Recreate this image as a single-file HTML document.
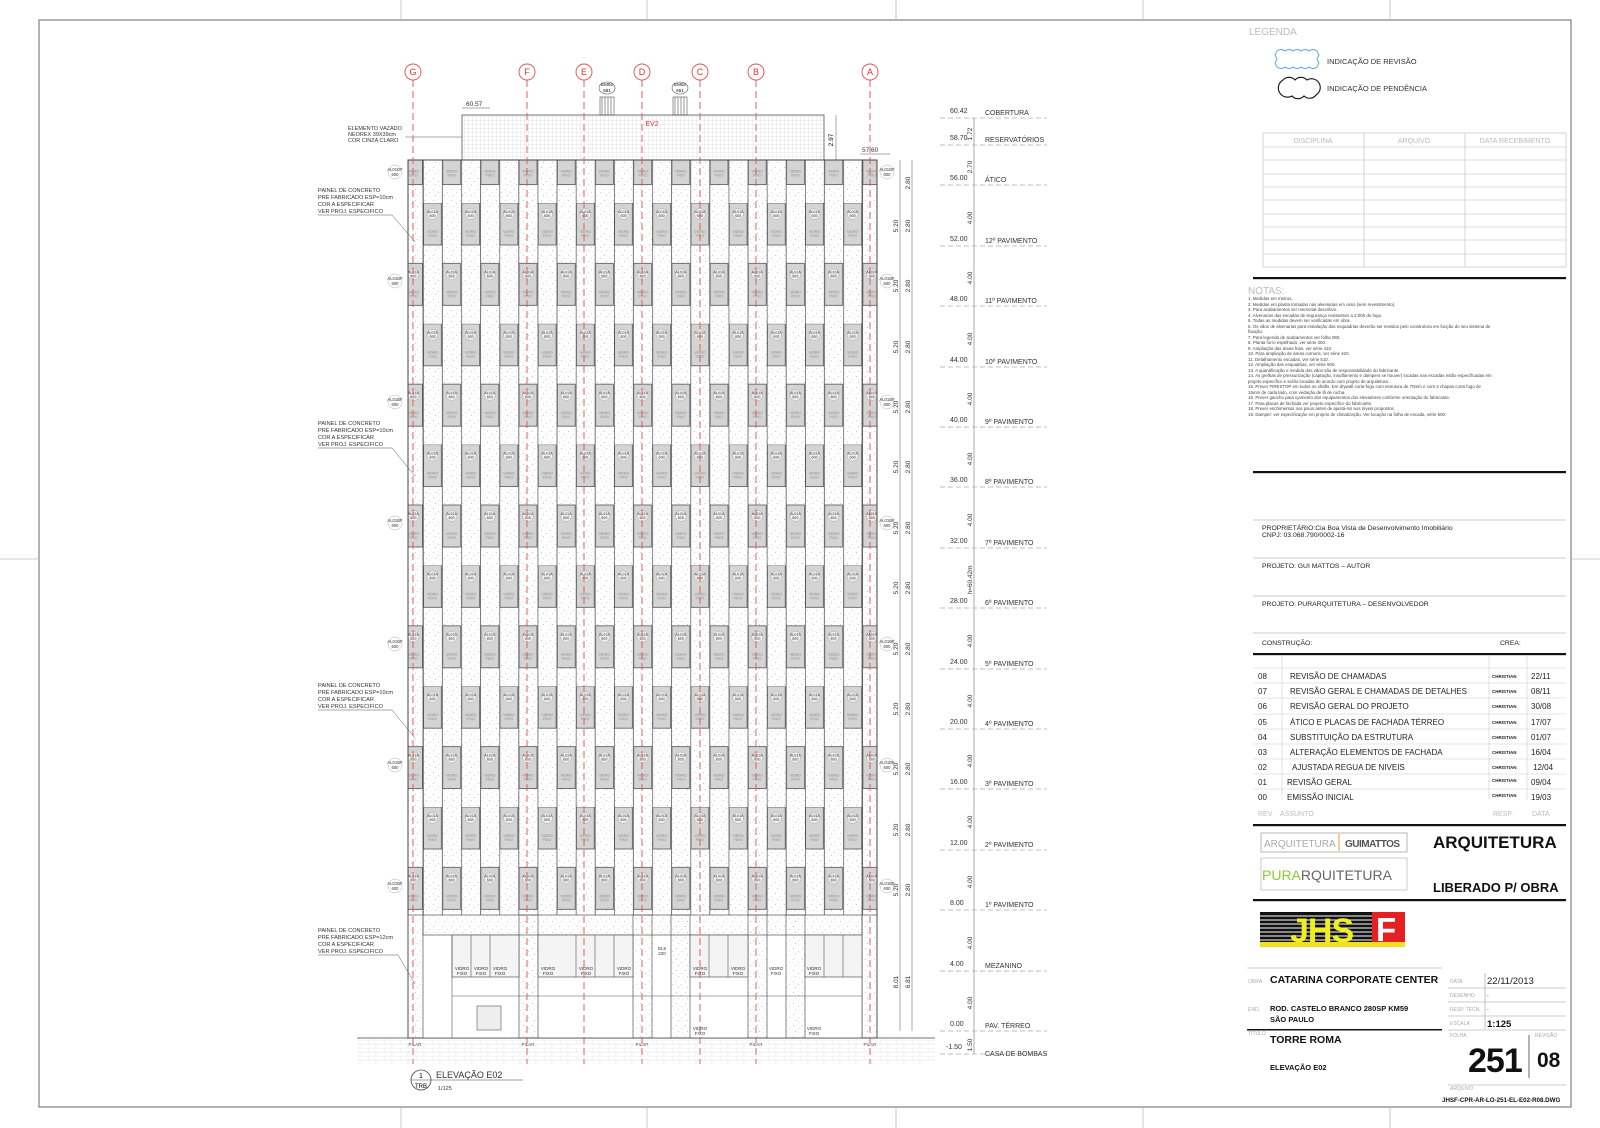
<!DOCTYPE html>
<html><head><meta charset="utf-8"><style>
html,body{margin:0;padding:0;background:#fff}
svg{display:block}
text{font-family:"Liberation Sans",sans-serif}
</style></head><body>
<svg width="1600" height="1128" viewBox="0 0 1600 1128" xmlns="http://www.w3.org/2000/svg">
<defs>
<pattern id="dots" patternUnits="userSpaceOnUse" width="9" height="11">
<rect x="1" y="2" width="0.8" height="0.8" fill="#aaa"/><rect x="6" y="5" width="0.8" height="0.8" fill="#bbb"/><rect x="3" y="8" width="0.8" height="0.8" fill="#aaa"/><rect x="7.5" y="9.5" width="0.7" height="0.7" fill="#ccc"/>
</pattern>
<pattern id="grid" patternUnits="userSpaceOnUse" width="4" height="4">
<path d="M0 0H4M0 0V4" stroke="#ccc" stroke-width="0.5" fill="none"/>
</pattern>
<pattern id="brick" patternUnits="userSpaceOnUse" width="16" height="8">
<path d="M0 0H16M0 4H16M0 0V4M8 4V8" stroke="#ddd" stroke-width="0.6" fill="none"/>
</pattern>
<pattern id="win" patternUnits="userSpaceOnUse" x="423" y="203" width="38.2" height="120.8">
<rect x="0.6" y="0" width="17.9" height="42" fill="#d4d4d4" stroke="#555" stroke-width="0.8"/>
<rect x="19.7" y="60.4" width="17.9" height="42" fill="#d4d4d4" stroke="#555" stroke-width="0.8"/>
<line x1="0.3" y1="0" x2="0.3" y2="120.8" stroke="#555" stroke-width="0.8"/>
<line x1="19.4" y1="0" x2="19.4" y2="120.8" stroke="#555" stroke-width="0.8"/>
<circle cx="9.5" cy="11" r="5.5" fill="#eee" stroke="#999" stroke-width="0.4"/>
<text x="9.5" y="10" font-size="3.6" text-anchor="middle" fill="#333">AL01A</text>
<text x="9.5" y="14" font-size="3.6" text-anchor="middle" fill="#333">600</text>
<text x="9.5" y="30" font-size="3.6" text-anchor="middle" fill="#888">VIDRO</text>
<text x="9.5" y="34" font-size="3.6" text-anchor="middle" fill="#888">FIXO</text>
<circle cx="28.6" cy="71.4" r="5.5" fill="#eee" stroke="#999" stroke-width="0.4"/>
<text x="28.6" y="70.4" font-size="3.6" text-anchor="middle" fill="#333">AL01A</text>
<text x="28.6" y="74.4" font-size="3.6" text-anchor="middle" fill="#333">600</text>
<text x="28.6" y="90.4" font-size="3.6" text-anchor="middle" fill="#888">VIDRO</text>
<text x="28.6" y="94.4" font-size="3.6" text-anchor="middle" fill="#888">FIXO</text>
</pattern>
</defs>

<!-- frame -->
<rect x="39" y="20" width="1532" height="1087" fill="none" stroke="#666" stroke-width="1"/>
<g stroke="#bbb" stroke-width="0.8">
<line x1="401" y1="0" x2="401" y2="20"/><line x1="647" y1="0" x2="647" y2="20"/><line x1="896" y1="0" x2="896" y2="20"/><line x1="1143" y1="0" x2="1143" y2="20"/><line x1="1390" y1="0" x2="1390" y2="20"/>
<line x1="401" y1="1107" x2="401" y2="1128"/><line x1="647" y1="1107" x2="647" y2="1128"/><line x1="896" y1="1107" x2="896" y2="1128"/><line x1="1143" y1="1107" x2="1143" y2="1128"/><line x1="1390" y1="1107" x2="1390" y2="1128"/>
<line x1="0" y1="559" x2="39" y2="559"/><line x1="1571" y1="559" x2="1600" y2="559"/>
</g>

<!-- roof box -->
<rect x="462" y="115" width="362" height="45" fill="url(#grid)" stroke="#555" stroke-width="0.8"/>
<text x="652" y="126" font-size="7" fill="#d33" text-anchor="middle">EV2</text>
<g stroke="#555" stroke-width="0.6" fill="none">
<rect x="600" y="97" width="14" height="18"/><path d="M602 97V115M605 97V115M608 97V115M611 97V115"/>
<rect x="673" y="97" width="14" height="18"/><path d="M675 97V115M678 97V115M681 97V115M684 97V115"/>
<ellipse cx="607" cy="88" rx="8" ry="6"/><ellipse cx="680" cy="88" rx="8" ry="6"/>
</g>
<text x="607" y="86" font-size="4.5" text-anchor="middle">EM02</text><text x="607" y="92" font-size="4.5" text-anchor="middle">651</text>
<text x="680" y="86" font-size="4.5" text-anchor="middle">EM02</text><text x="680" y="92" font-size="4.5" text-anchor="middle">651</text>
<text x="466" y="106" font-size="6.5" fill="#333">60.57</text>
<line x1="462" y1="108" x2="490" y2="108" stroke="#555" stroke-width="0.5"/>
<text x="862" y="152" font-size="6.5" fill="#333">57.60</text>
<line x1="860" y1="154" x2="890" y2="154" stroke="#555" stroke-width="0.5"/>
<line x1="836" y1="115" x2="836" y2="160" stroke="#555" stroke-width="0.5"/>
<text transform="translate(833,140) rotate(-90)" font-size="6.5" text-anchor="middle">2.97</text>
<text x="348" y="130" font-size="5.5" fill="#333">ELEMENTO VAZADO</text>
<text x="348" y="136" font-size="5.5" fill="#333">NEOREX 39X39cm</text>
<text x="348" y="142" font-size="5.5" fill="#333">COR CINZA CLARO</text>
<line x1="405" y1="137" x2="462" y2="137" stroke="#555" stroke-width="0.5"/>

<!-- building -->
<rect x="408" y="160" width="469" height="755" fill="#fff"/>
<rect x="408" y="160" width="469" height="755" fill="url(#dots)"/>
<rect x="408" y="160" width="469" height="755" fill="url(#win)"/>
<rect x="408" y="160" width="469" height="878" fill="none" stroke="#444" stroke-width="1"/>
<line x1="423" y1="160" x2="423" y2="915" stroke="#555" stroke-width="0.8"/>
<line x1="862" y1="160" x2="862" y2="1038" stroke="#555" stroke-width="0.8"/>

<!-- mezzanine -->
<rect x="423" y="915" width="439" height="123" fill="#fff"/>
<g fill="url(#dots)" stroke="#555" stroke-width="0.7">
<rect x="408" y="915" width="15" height="123"/>
<rect x="519" y="915" width="19" height="123"/>
<rect x="633" y="915" width="19" height="123"/>
<rect x="671" y="915" width="19" height="123"/>
<rect x="748" y="915" width="19" height="123"/>
<rect x="786" y="915" width="19" height="123"/>
<rect x="862" y="915" width="15" height="123"/>
<rect x="423" y="915" width="439" height="20"/>
</g>
<g fill="#f4f4f4" stroke="#555" stroke-width="0.7">
<rect x="452" y="935" width="67" height="42"/><rect x="538" y="935" width="95" height="42"/>
<rect x="690" y="935" width="58" height="42"/><rect x="805" y="935" width="57" height="42"/>
</g>
<g stroke="#555" stroke-width="0.6"><line x1="471" y1="935" x2="471" y2="977"/><line x1="490" y1="935" x2="490" y2="977"/><line x1="576" y1="935" x2="576" y2="977"/><line x1="595" y1="935" x2="595" y2="977"/><line x1="614" y1="935" x2="614" y2="977"/><line x1="709" y1="935" x2="709" y2="977"/><line x1="728" y1="935" x2="728" y2="977"/><line x1="824" y1="935" x2="824" y2="977"/><line x1="843" y1="935" x2="843" y2="977"/>
<line x1="452" y1="996" x2="862" y2="996"/><line x1="452" y1="935" x2="452" y2="1038"/>
</g>
<rect x="477" y="1006" width="24" height="24" fill="#eee" stroke="#555" stroke-width="0.6"/>
<g font-size="4.5" text-anchor="middle" fill="#333">
<text x="462" y="970">VIDRO</text><text x="462" y="975">FIXO</text><text x="481" y="970">VIDRO</text><text x="481" y="975">FIXO</text><text x="500" y="970">VIDRO</text><text x="500" y="975">FIXO</text>
<text x="548" y="970">VIDRO</text><text x="548" y="975">FIXO</text><text x="586" y="970">VIDRO</text><text x="586" y="975">FIXO</text><text x="624" y="970">VIDRO</text><text x="624" y="975">FIXO</text>
<text x="700" y="970">VIDRO</text><text x="700" y="975">FIXO</text><text x="738" y="970">VIDRO</text><text x="738" y="975">FIXO</text>
<text x="776" y="970">VIDRO</text><text x="776" y="975">FIXO</text><text x="814" y="970">VIDRO</text><text x="814" y="975">FIXO</text>
<text x="662" y="950">EL6</text><text x="662" y="955">220</text>
<text x="700" y="1030">VIDRO</text><text x="700" y="1035">FIXO</text><text x="814" y="1030">VIDRO</text><text x="814" y="1035">FIXO</text>
<text x="415" y="1046">PILAR</text><text x="528" y="1046">PILAR</text><text x="642" y="1046">PILAR</text><text x="756" y="1046">PILAR</text><text x="870" y="1046">PILAR</text>
</g>
<rect x="357" y="1038" width="578" height="26" fill="url(#brick)"/>
<line x1="357" y1="1038" x2="935" y2="1038" stroke="#444" stroke-width="0.8"/>

<!-- edge labels -->
<g font-size="4.2" text-anchor="middle" fill="#333" stroke="none">
<circle cx="395" cy="172" r="7" fill="#fff" stroke="#999" stroke-width="0.4"/><text x="395" y="171">AL01DF</text><text x="395" y="176">600</text>
<circle cx="887" cy="172" r="7" fill="#fff" stroke="#999" stroke-width="0.4"/><text x="887" y="171">AL01DF</text><text x="887" y="176">600</text>
<circle cx="395" cy="281" r="7" fill="#fff" stroke="#999" stroke-width="0.4"/><text x="395" y="280">AL01BF</text><text x="395" y="285">600</text>
<circle cx="887" cy="281" r="7" fill="#fff" stroke="#999" stroke-width="0.4"/><text x="887" y="280">AL01BF</text><text x="887" y="285">600</text>
<circle cx="395" cy="402" r="7" fill="#fff" stroke="#999" stroke-width="0.4"/><text x="395" y="401">AL01BF</text><text x="395" y="406">600</text>
<circle cx="887" cy="402" r="7" fill="#fff" stroke="#999" stroke-width="0.4"/><text x="887" y="401">AL01BF</text><text x="887" y="406">600</text>
<circle cx="395" cy="523" r="7" fill="#fff" stroke="#999" stroke-width="0.4"/><text x="395" y="522">AL01BF</text><text x="395" y="527">600</text>
<circle cx="887" cy="523" r="7" fill="#fff" stroke="#999" stroke-width="0.4"/><text x="887" y="522">AL01BF</text><text x="887" y="527">600</text>
<circle cx="395" cy="644" r="7" fill="#fff" stroke="#999" stroke-width="0.4"/><text x="395" y="643">AL01BF</text><text x="395" y="648">600</text>
<circle cx="887" cy="644" r="7" fill="#fff" stroke="#999" stroke-width="0.4"/><text x="887" y="643">AL01BF</text><text x="887" y="648">600</text>
<circle cx="395" cy="765" r="7" fill="#fff" stroke="#999" stroke-width="0.4"/><text x="395" y="764">AL01BF</text><text x="395" y="769">600</text>
<circle cx="887" cy="765" r="7" fill="#fff" stroke="#999" stroke-width="0.4"/><text x="887" y="764">AL01BF</text><text x="887" y="769">600</text>
<circle cx="395" cy="886" r="7" fill="#fff" stroke="#999" stroke-width="0.4"/><text x="395" y="885">AL01BF</text><text x="395" y="890">600</text>
<circle cx="887" cy="886" r="7" fill="#fff" stroke="#999" stroke-width="0.4"/><text x="887" y="885">AL01BF</text><text x="887" y="890">600</text>
</g>

<!-- left annotations -->
<g font-size="5.6" fill="#333">
<text x="318" y="192">PAINEL DE CONCRETO</text><text x="318" y="199">PRÉ FABRICADO ESP=10cm</text><text x="318" y="206">COR A ESPECIFICAR</text><text x="318" y="213">VER PROJ. ESPECIFICO</text>
<text x="318" y="425">PAINEL DE CONCRETO</text><text x="318" y="432">PRÉ FABRICADO ESP=10cm</text><text x="318" y="439">COR A ESPECIFICAR</text><text x="318" y="446">VER PROJ. ESPECIFICO</text>
<text x="318" y="687">PAINEL DE CONCRETO</text><text x="318" y="694">PRÉ FABRICADO ESP=10cm</text><text x="318" y="701">COR A ESPECIFICAR</text><text x="318" y="708">VER PROJ. ESPECIFICO</text>
<text x="318" y="932">PAINEL DE CONCRETO</text><text x="318" y="939">PRÉ FABRICADO ESP=12cm</text><text x="318" y="946">COR A ESPECIFICAR</text><text x="318" y="953">VER PROJ. ESPECIFICO</text>
</g>
<g stroke="#555" stroke-width="0.5" fill="none">
<path d="M318 215H392L415 242"/><path d="M318 448H392L415 476"/><path d="M318 710H392L415 738"/><path d="M318 955H398L415 984"/>
</g>

<!-- grid lines -->
<g stroke="#e05050" stroke-width="0.9" stroke-dasharray="7 4" fill="none">
<line x1="413" y1="80" x2="413" y2="1064"/><line x1="527" y1="80" x2="527" y2="1064"/><line x1="584" y1="80" x2="584" y2="1064"/><line x1="642" y1="80" x2="642" y2="1064"/><line x1="700" y1="80" x2="700" y2="1064"/><line x1="756" y1="80" x2="756" y2="1064"/><line x1="870" y1="80" x2="870" y2="1064"/>
</g>
<g stroke="#e05050" stroke-width="0.9" fill="#fff">
<circle cx="413" cy="72" r="8"/><circle cx="527" cy="72" r="8"/><circle cx="584" cy="72" r="8"/><circle cx="642" cy="72" r="8"/><circle cx="700" cy="72" r="8"/><circle cx="756" cy="72" r="8"/><circle cx="870" cy="72" r="8"/>
</g>
<g font-size="9" fill="#d33" text-anchor="middle">
<text x="413" y="75">G</text><text x="527" y="75">F</text><text x="584" y="75">E</text><text x="642" y="75">D</text><text x="700" y="75">C</text><text x="756" y="75">B</text><text x="870" y="75">A</text>
</g>

<!-- near dims -->
<g stroke="#555" stroke-width="0.5"><line x1="900" y1="160" x2="900" y2="1031"/><line x1="912" y1="160" x2="912" y2="1031"/><line x1="974" y1="118" x2="974" y2="1054"/></g>
<g font-size="6.5" fill="#333" text-anchor="middle">
<text transform="translate(910,183) rotate(-90)">2.80</text>
<text transform="translate(910,226) rotate(-90)">2.80</text><text transform="translate(898,226) rotate(-90)">5.20</text>
<text transform="translate(910,286) rotate(-90)">2.80</text><text transform="translate(898,286) rotate(-90)">5.20</text>
<text transform="translate(910,347) rotate(-90)">2.80</text><text transform="translate(898,347) rotate(-90)">5.20</text>
<text transform="translate(910,407) rotate(-90)">2.80</text><text transform="translate(898,407) rotate(-90)">5.20</text>
<text transform="translate(910,467) rotate(-90)">2.80</text><text transform="translate(898,467) rotate(-90)">5.20</text>
<text transform="translate(910,528) rotate(-90)">2.80</text><text transform="translate(898,528) rotate(-90)">5.20</text>
<text transform="translate(910,588) rotate(-90)">2.80</text><text transform="translate(898,588) rotate(-90)">5.20</text>
<text transform="translate(910,649) rotate(-90)">2.80</text><text transform="translate(898,649) rotate(-90)">5.20</text>
<text transform="translate(910,709) rotate(-90)">2.80</text><text transform="translate(898,709) rotate(-90)">5.20</text>
<text transform="translate(910,769) rotate(-90)">2.80</text><text transform="translate(898,769) rotate(-90)">5.20</text>
<text transform="translate(910,830) rotate(-90)">2.80</text><text transform="translate(898,830) rotate(-90)">5.20</text>
<text transform="translate(910,890) rotate(-90)">2.80</text><text transform="translate(898,890) rotate(-90)">5.20</text>
<text transform="translate(910,982) rotate(-90)">6.81</text><text transform="translate(898,982) rotate(-90)">8.01</text>
<text transform="translate(972,134) rotate(-90)">1.72</text><text transform="translate(972,167) rotate(-90)">2.70</text>
<text transform="translate(972,218) rotate(-90)">4.00</text><text transform="translate(972,278) rotate(-90)">4.00</text><text transform="translate(972,339) rotate(-90)">4.00</text><text transform="translate(972,399) rotate(-90)">4.00</text><text transform="translate(972,459) rotate(-90)">4.00</text><text transform="translate(972,520) rotate(-90)">4.00</text><text transform="translate(972,580) rotate(-90)">h=60.42m</text><text transform="translate(972,641) rotate(-90)">4.00</text><text transform="translate(972,701) rotate(-90)">4.00</text><text transform="translate(972,761) rotate(-90)">4.00</text><text transform="translate(972,822) rotate(-90)">4.00</text><text transform="translate(972,882) rotate(-90)">4.00</text><text transform="translate(972,943) rotate(-90)">4.00</text><text transform="translate(972,1003) rotate(-90)">4.00</text><text transform="translate(972,1045) rotate(-90)">1.50</text>
</g>

<!-- levels -->
<g stroke="#aaa" stroke-width="0.7" stroke-dasharray="5 3">
<line x1="940" y1="118" x2="1047" y2="118"/><line x1="940" y1="145" x2="1047" y2="145"/><line x1="940" y1="185" x2="1047" y2="185"/><line x1="940" y1="246" x2="1047" y2="246"/><line x1="940" y1="306" x2="1047" y2="306"/><line x1="940" y1="367" x2="1047" y2="367"/><line x1="940" y1="427" x2="1047" y2="427"/><line x1="940" y1="487" x2="1047" y2="487"/><line x1="940" y1="548" x2="1047" y2="548"/><line x1="940" y1="608" x2="1047" y2="608"/><line x1="940" y1="669" x2="1047" y2="669"/><line x1="940" y1="729" x2="1047" y2="729"/><line x1="940" y1="789" x2="1047" y2="789"/><line x1="940" y1="850" x2="1047" y2="850"/><line x1="940" y1="910" x2="1047" y2="910"/><line x1="940" y1="971" x2="1047" y2="971"/><line x1="940" y1="1031" x2="1047" y2="1031"/><line x1="940" y1="1054" x2="1047" y2="1054"/>
</g>
<g font-size="7" fill="#333">
<text x="950" y="113">60.42</text><text x="985" y="115">COBERTURA</text>
<text x="950" y="140">58.70</text><text x="985" y="142">RESERVATÓRIOS</text>
<text x="950" y="180">56.00</text><text x="985" y="182">ÁTICO</text>
<text x="950" y="241">52.00</text><text x="985" y="243">12º PAVIMENTO</text>
<text x="950" y="301">48.00</text><text x="985" y="303">11º PAVIMENTO</text>
<text x="950" y="362">44.00</text><text x="985" y="364">10º PAVIMENTO</text>
<text x="950" y="422">40.00</text><text x="985" y="424">9º PAVIMENTO</text>
<text x="950" y="482">36.00</text><text x="985" y="484">8º PAVIMENTO</text>
<text x="950" y="543">32.00</text><text x="985" y="545">7º PAVIMENTO</text>
<text x="950" y="603">28.00</text><text x="985" y="605">6º PAVIMENTO</text>
<text x="950" y="664">24.00</text><text x="985" y="666">5º PAVIMENTO</text>
<text x="950" y="724">20.00</text><text x="985" y="726">4º PAVIMENTO</text>
<text x="950" y="784">16.00</text><text x="985" y="786">3º PAVIMENTO</text>
<text x="950" y="845">12.00</text><text x="985" y="847">2º PAVIMENTO</text>
<text x="950" y="905">8.00</text><text x="985" y="907">1º PAVIMENTO</text>
<text x="950" y="966">4.00</text><text x="985" y="968">MEZANINO</text>
<text x="950" y="1026">0.00</text><text x="985" y="1028">PAV. TÉRREO</text>
<text x="946" y="1049">-1.50</text><text x="985" y="1056">CASA DE BOMBAS</text>
</g>

<!-- elevation title -->
<circle cx="421" cy="1080" r="10" fill="none" stroke="#444" stroke-width="0.8"/>
<line x1="411" y1="1080" x2="523" y2="1080" stroke="#444" stroke-width="0.6"/>
<text x="421" y="1078" font-size="7" text-anchor="middle">1</text>
<text x="421" y="1088" font-size="6" text-anchor="middle">TRB</text>
<text x="436" y="1078" font-size="9" fill="#333">ELEVAÇÃO E02</text>
<text x="438" y="1090" font-size="5.5" fill="#333">1/125</text>

<!-- right panel -->
<text x="1249" y="35" font-size="10" fill="#bbb">LEGENDA</text>
<path d="M1277 51q4-3 8 0q4-3 8 0q4-3 8 0q4-3 8 0q4-3 8 0l2 4-2 4 2 4-2 4q-4 3-8 0q-4 3-8 0q-4 3-8 0q-4 3-8 0q-4 3-8 0l-2-4 2-4-2-4z" fill="none" stroke="#5aa0e0" stroke-width="0.9"/>
<path d="M1283 80a8 8 0 0 1 12 0a8 8 0 0 1 12 0a8 8 0 0 1 9 15a8 8 0 0 1-12 1a8 8 0 0 1-12 0a8 8 0 0 1-9-16z" fill="none" stroke="#111" stroke-width="1.1"/>
<text x="1327" y="64" font-size="7.5" fill="#333">INDICAÇÃO DE REVISÃO</text>
<text x="1327" y="91" font-size="7.5" fill="#333">INDICAÇÃO DE PENDÊNCIA</text>
<g stroke="#bbb" stroke-width="0.6" fill="none">
<rect x="1263" y="133" width="303" height="134"/>
<line x1="1364" y1="133" x2="1364" y2="267"/><line x1="1465" y1="133" x2="1465" y2="267"/>
<line x1="1263" y1="147" x2="1566" y2="147"/><line x1="1263" y1="160" x2="1566" y2="160"/><line x1="1263" y1="174" x2="1566" y2="174"/><line x1="1263" y1="187" x2="1566" y2="187"/><line x1="1263" y1="200" x2="1566" y2="200"/><line x1="1263" y1="214" x2="1566" y2="214"/><line x1="1263" y1="227" x2="1566" y2="227"/><line x1="1263" y1="240" x2="1566" y2="240"/><line x1="1263" y1="254" x2="1566" y2="254"/>
</g>
<g font-size="7" fill="#bbb" text-anchor="middle"><text x="1313" y="143">DISCIPLINA</text><text x="1414" y="143">ARQUIVO</text><text x="1515" y="143">DATA RECEBIMENTO</text></g>
<rect x="1253" y="277" width="313" height="2.2" fill="#111"/>
<text x="1248" y="294" font-size="10" fill="#bbb">NOTAS:</text>
<g font-size="4.4" fill="#444">
<text x="1248" y="300">1. Medidas em metros.</text>
<text x="1248" y="306">2. Medidas em planta tomadas nas alvenarias em osso (sem revestimento).</text>
<text x="1248" y="311">3. Para acabamentos ver memorial descritivo.</text>
<text x="1248" y="317">4. Alvenarias das escadas de segurança resistentes a 2:00h de fogo.</text>
<text x="1248" y="322">5. Todas as medidas devem ser verificadas em obra.</text>
<text x="1248" y="328">6. Os vãos de alvenarias para instalação das esquadrias deverão ser revistos pelo construtora em função do seu sistema de</text>
<text x="1248" y="333">fixação.</text>
<text x="1248" y="339">7. Para legenda de acabamentos ver folha 090.</text>
<text x="1248" y="344">8. Planta forro espelhado, ver série 300.</text>
<text x="1248" y="350">9. Ampliação das áreas frias, ver série 410.</text>
<text x="1248" y="355">10. Para ampliação de áreas comuns, ver série 420.</text>
<text x="1248" y="361">11. Detalhamento escadas, ver série 510.</text>
<text x="1248" y="366">12. Ampliação das esquadrias, ver série 600.</text>
<text x="1248" y="372">13. A quantificação e medida dos vãos são de responsabilidade do fabricante.</text>
<text x="1248" y="377">14. As grelhas de pressurização (captação, insuflamento e dampers se houver) locadas nas escadas estão especificadas em</text>
<text x="1248" y="383">projeto específico e serão locadas de acordo com projeto de arquitetura.</text>
<text x="1248" y="388">15. Prever FIRESTOP em todos os shafts. Em drywall corta-fogo com estrutura de 70mm e com 2 chapas corta fogo de</text>
<text x="1248" y="394">15mm de cada lado, com vedação de lã de rocha.</text>
<text x="1248" y="399">16. Prever gancho para içamento dos equipamentos dos elevadores conforme orientação do fabricante.</text>
<text x="1248" y="405">17. Para placas de fachada ver projeto específico do fabricante.</text>
<text x="1248" y="410">18. Prever enchimentos nos pisos antes de ajustá-los aos níveis propostos.</text>
<text x="1248" y="416">19. Damper: ver especificação em projeto de climatização. Ver locação na folha de escada, série 500.</text>
</g>
<rect x="1253" y="471" width="313" height="2.2" fill="#111"/>
<g stroke="#999" stroke-width="0.6"><line x1="1253" y1="520" x2="1566" y2="520"/><line x1="1253" y1="558" x2="1566" y2="558"/><line x1="1253" y1="596" x2="1566" y2="596"/><line x1="1253" y1="633" x2="1566" y2="633"/></g>
<g font-size="6.8" fill="#222">
<text x="1262" y="530">PROPRIETÁRIO:Cia Boa Vista de Desenvolvimento Imobiliário</text>
<text x="1262" y="537">CNPJ: 03.068.790/0002-16</text>
<text x="1262" y="568">PROJETO: GUI MATTOS – AUTOR</text>
<text x="1262" y="606">PROJETO: PURARQUITETURA – DESENVOLVEDOR</text>
<text x="1262" y="645">CONSTRUÇÃO:</text><text x="1500" y="645">CREA:</text>
</g>
<rect x="1253" y="653" width="313" height="2.2" fill="#111"/>
<g stroke="#ccc" stroke-width="0.6">
<line x1="1282" y1="655" x2="1282" y2="800"/><line x1="1489" y1="655" x2="1489" y2="800"/><line x1="1527" y1="655" x2="1527" y2="800"/>
<line x1="1253" y1="668" x2="1566" y2="668"/><line x1="1253" y1="683" x2="1566" y2="683"/><line x1="1253" y1="698" x2="1566" y2="698"/><line x1="1253" y1="714" x2="1566" y2="714"/><line x1="1253" y1="729" x2="1566" y2="729"/><line x1="1253" y1="744" x2="1566" y2="744"/><line x1="1253" y1="759" x2="1566" y2="759"/><line x1="1253" y1="774" x2="1566" y2="774"/><line x1="1253" y1="789" x2="1566" y2="789"/>
</g>
<g font-size="8" fill="#222">
<text x="1258" y="679">08</text><text x="1290" y="679">REVISÃO DE CHAMADAS</text><text x="1531" y="679">22/11</text>
<text x="1258" y="694">07</text><text x="1290" y="694">REVISÃO GERAL E CHAMADAS DE DETALHES</text><text x="1531" y="694">08/11</text>
<text x="1258" y="709">06</text><text x="1290" y="709">REVISÃO GERAL DO PROJETO</text><text x="1531" y="709">30/08</text>
<text x="1258" y="725">05</text><text x="1290" y="725">ÁTICO E PLACAS DE FACHADA TÉRREO</text><text x="1531" y="725">17/07</text>
<text x="1258" y="740">04</text><text x="1290" y="740">SUBSTITUIÇÃO DA ESTRUTURA</text><text x="1531" y="740">01/07</text>
<text x="1258" y="755">03</text><text x="1290" y="755">ALTERAÇÃO ELEMENTOS DE FACHADA</text><text x="1531" y="755">16/04</text>
<text x="1258" y="770">02</text><text x="1292" y="770">AJUSTADA REGUA DE NIVEIS</text><text x="1533" y="770">12/04</text>
<text x="1258" y="785">01</text><text x="1287" y="785">REVISÃO GERAL</text><text x="1531" y="785">09/04</text>
<text x="1258" y="800">00</text><text x="1287" y="800">EMISSÃO INICIAL</text><text x="1531" y="800">19/03</text>
</g>
<g font-size="4.5" font-weight="bold" fill="#222">
<text x="1492" y="678">CHRISTIAN</text><text x="1492" y="693">CHRISTIAN</text><text x="1492" y="708">CHRISTIAN</text><text x="1492" y="724">CHRISTIAN</text><text x="1492" y="739">CHRISTIAN</text><text x="1492" y="754">CHRISTIAN</text><text x="1492" y="769">CHRISTIAN</text><text x="1492" y="782">CHRISTIAN</text><text x="1492" y="797">CHRISTIAN</text>
</g>
<g font-size="7" fill="#bbb"><text x="1258" y="816">REV</text><text x="1280" y="816">ASSUNTO</text><text x="1493" y="816">RESP.</text><text x="1532" y="816">DATA</text></g>
<rect x="1253" y="824" width="313" height="2.2" fill="#111"/>
<rect x="1261" y="833" width="146" height="19" fill="none" stroke="#888" stroke-width="0.6"/>
<text x="1264" y="847" font-size="10" fill="#aaa">ARQUITETURA</text>
<line x1="1339" y1="834" x2="1339" y2="851" stroke="#e8a030" stroke-width="1"/>
<text x="1345" y="847" font-size="10" fill="#555" font-weight="bold" letter-spacing="-0.5">GUIMATTOS</text>
<rect x="1261" y="858" width="146" height="32" fill="none" stroke="#aaa" stroke-width="0.6"/>
<text x="1262" y="880" font-size="14" fill="#8c3"><tspan>PURA</tspan><tspan fill="#666">RQUITETURA</tspan></text>
<text x="1433" y="848" font-size="17" font-weight="bold" fill="#111">ARQUITETURA</text>
<text x="1433" y="892" font-size="13" font-weight="bold" fill="#111">LIBERADO P/ OBRA</text>
<rect x="1253" y="899" width="313" height="2.2" fill="#111"/>
<!-- JHSF logo -->
<rect x="1260" y="912" width="112" height="30" fill="#111"/>
<g stroke="#fff" stroke-width="1"><line x1="1260" y1="916" x2="1372" y2="916"/><line x1="1260" y1="920" x2="1372" y2="920"/><line x1="1260" y1="924" x2="1372" y2="924"/><line x1="1260" y1="928" x2="1372" y2="928"/><line x1="1260" y1="932" x2="1372" y2="932"/><line x1="1260" y1="936" x2="1372" y2="936"/><line x1="1260" y1="940" x2="1372" y2="940"/></g>
<text x="1290" y="942" font-size="34" font-weight="bold" fill="#f0f020" letter-spacing="-1">JHS</text>
<rect x="1372" y="912" width="33" height="30" fill="#e52020"/>
<text x="1376" y="941" font-size="33" font-weight="bold" fill="#fff">F</text>
<rect x="1260" y="942" width="145" height="5" fill="#f0e020"/>
<!-- project data -->
<line x1="1247" y1="968" x2="1442" y2="968" stroke="#999" stroke-width="0.6"/>
<g font-size="5" fill="#aaa"><text x="1248" y="983">OBRA</text><text x="1248" y="1011">END.</text><text x="1248" y="1035">TITULO</text><text x="1450" y="983">DATA</text><text x="1450" y="997">DESENHO</text><text x="1450" y="1011">RESP. TÉCN.</text><text x="1450" y="1025">ESCALA</text><text x="1450" y="1037">FOLHA</text><text x="1535" y="1037">REVISÃO</text><text x="1450" y="1090">ARQUIVO</text></g>
<text x="1270" y="983" font-size="10.5" font-weight="bold" fill="#111">CATARINA CORPORATE CENTER</text>
<text x="1270" y="1011" font-size="7.5" font-weight="bold" fill="#111">ROD. CASTELO BRANCO 280SP KM59</text>
<text x="1270" y="1022" font-size="7.5" font-weight="bold" fill="#111">SÃO PAULO</text>
<rect x="1247" y="1029" width="195" height="1.5" fill="#111"/>
<text x="1270" y="1043" font-size="10.5" font-weight="bold" fill="#111">TORRE ROMA</text>
<text x="1270" y="1070" font-size="7.5" font-weight="bold" fill="#111">ELEVAÇÃO E02</text>
<g stroke="#999" stroke-width="0.6"><line x1="1448" y1="988" x2="1566" y2="988"/><line x1="1448" y1="1002" x2="1566" y2="1002"/><line x1="1448" y1="1016" x2="1566" y2="1016"/><line x1="1485" y1="973" x2="1485" y2="1029"/><line x1="1448" y1="1030" x2="1566" y2="1030"/><line x1="1448" y1="1085" x2="1566" y2="1085"/></g>
<line x1="1529" y1="1035" x2="1529" y2="1078" stroke="#444" stroke-width="0.8"/>
<text x="1487" y="984" font-size="9.5" fill="#222">22/11/2013</text>
<text x="1487" y="997" font-size="5" fill="#444">-</text><text x="1487" y="1011" font-size="5" fill="#444">-</text>
<text x="1487" y="1027" font-size="9.5" font-weight="bold" fill="#111">1:125</text>
<text x="1468" y="1072" font-size="34" font-weight="bold" fill="#111" letter-spacing="-1">251</text>
<text x="1537" y="1067" font-size="21" font-weight="bold" fill="#111">08</text>
<text x="1442" y="1102" font-size="6.2" font-weight="bold" fill="#111">JHSF-CPR-AR-LO-251-EL-E02-R08.DWG</text>
</svg>
</body></html>
